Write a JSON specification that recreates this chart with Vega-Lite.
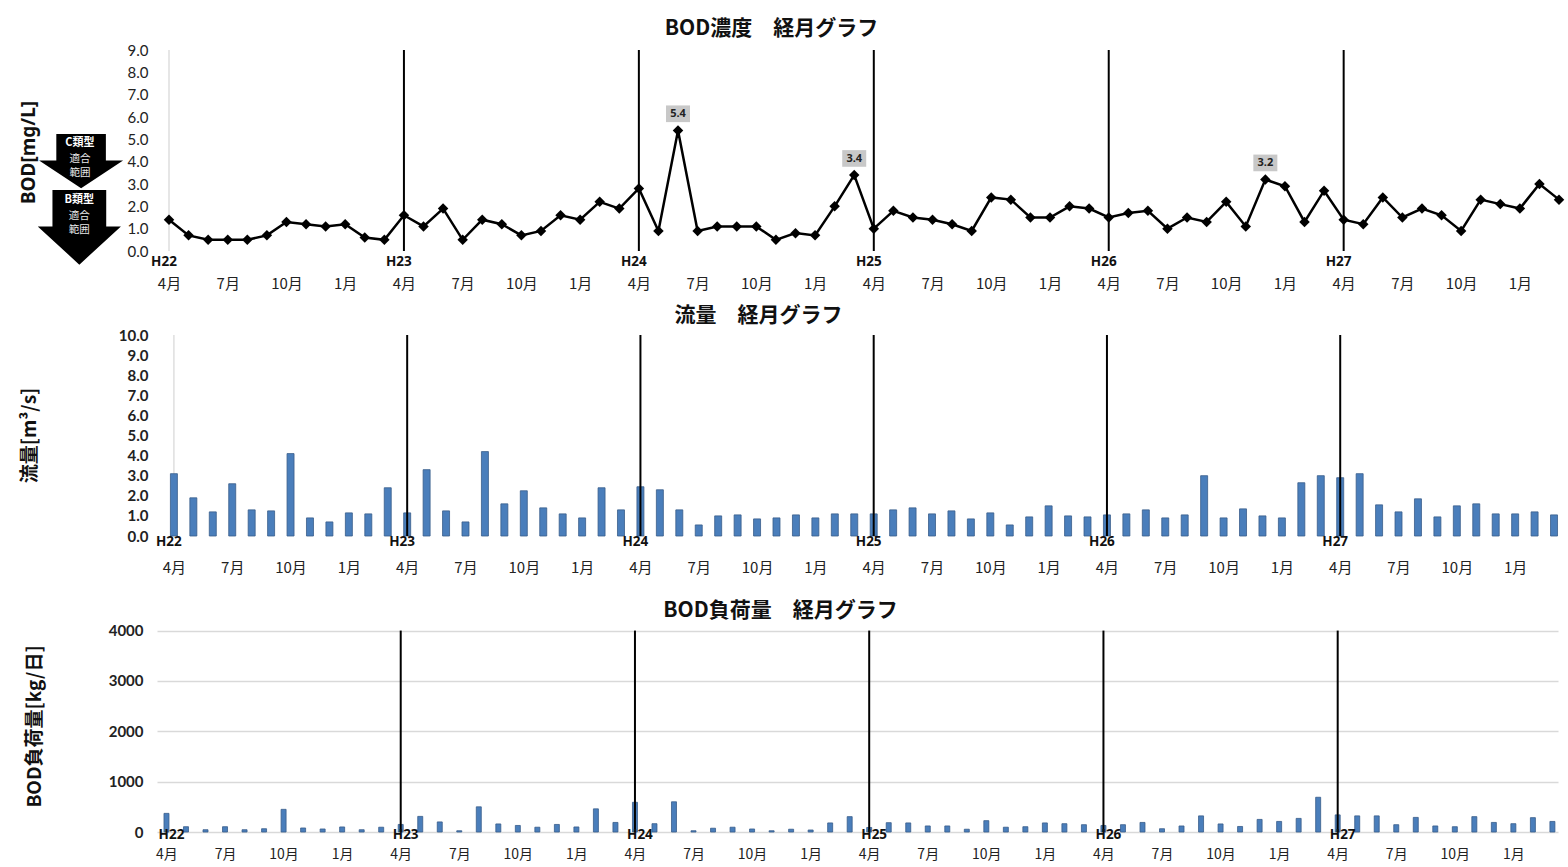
{
  "$schema": "https://vega.github.io/schema/vega-lite/v6.json",
  "padding": {"left": 19, "top": 18, "right": 8, "bottom": 0},
  "bounds": "flush",
  "spacing": 84,
  "config": {
    "view": {"stroke": null},
    "font": "Noto Sans CJK JP",
    "axis": {"gridColor": "#d9d9d9", "gridWidth": 1.3, "ticks": false, "domainColor": "#d9d9d9", "domainWidth": 1.3, "labelColor": "#222222", "titleColor": "#111111", "labelOverlap": false}
  },
  "datasets": {
    "m": [
      {"i":0,"bod":1.4,"flow":3.1,"load":370},{"i":1,"bod":0.7,"flow":1.9,"load":105},{"i":2,"bod":0.5,"flow":1.2,"load":45},{"i":3,"bod":0.5,"flow":2.6,"load":105},{"i":4,"bod":0.5,"flow":1.3,"load":45},{"i":5,"bod":0.7,"flow":1.25,"load":65},
      {"i":6,"bod":1.3,"flow":4.1,"load":450},{"i":7,"bod":1.2,"flow":0.9,"load":80},{"i":8,"bod":1.1,"flow":0.7,"load":60},{"i":9,"bod":1.2,"flow":1.15,"load":100},{"i":10,"bod":0.6,"flow":1.1,"load":45},{"i":11,"bod":0.5,"flow":2.4,"load":95},
      {"i":12,"bod":1.6,"flow":1.15,"load":150},{"i":13,"bod":1.1,"flow":3.3,"load":310},{"i":14,"bod":1.9,"flow":1.25,"load":200},{"i":15,"bod":0.5,"flow":0.7,"load":25},{"i":16,"bod":1.4,"flow":4.2,"load":500},{"i":17,"bod":1.2,"flow":1.6,"load":160},
      {"i":18,"bod":0.7,"flow":2.25,"load":130},{"i":19,"bod":0.9,"flow":1.4,"load":95},{"i":20,"bod":1.6,"flow":1.1,"load":150},{"i":21,"bod":1.4,"flow":0.9,"load":100},{"i":22,"bod":2.2,"flow":2.4,"load":460},{"i":23,"bod":1.9,"flow":1.3,"load":190},
      {"i":24,"bod":2.8,"flow":2.45,"load":590},{"i":25,"bod":0.9,"flow":2.3,"load":165},{"i":26,"bod":5.4,"flow":1.3,"load":600},{"i":27,"bod":0.9,"flow":0.55,"load":25},{"i":28,"bod":1.1,"flow":1.0,"load":75},{"i":29,"bod":1.1,"flow":1.05,"load":95},
      {"i":30,"bod":1.1,"flow":0.85,"load":60},{"i":31,"bod":0.5,"flow":0.9,"load":25},{"i":32,"bod":0.8,"flow":1.05,"load":55},{"i":33,"bod":0.7,"flow":0.9,"load":40},{"i":34,"bod":2.0,"flow":1.1,"load":180},{"i":35,"bod":3.4,"flow":1.1,"load":305},
      {"i":36,"bod":1.0,"flow":1.1,"load":90},{"i":37,"bod":1.8,"flow":1.3,"load":185},{"i":38,"bod":1.5,"flow":1.4,"load":180},{"i":39,"bod":1.4,"flow":1.1,"load":120},{"i":40,"bod":1.2,"flow":1.25,"load":120},{"i":41,"bod":0.9,"flow":0.85,"load":55},
      {"i":42,"bod":2.4,"flow":1.15,"load":225},{"i":43,"bod":2.3,"flow":0.55,"load":95},{"i":44,"bod":1.5,"flow":0.95,"load":105},{"i":45,"bod":1.5,"flow":1.5,"load":180},{"i":46,"bod":2.0,"flow":1.0,"load":165},{"i":47,"bod":1.9,"flow":0.95,"load":145},
      {"i":48,"bod":1.5,"flow":1.05,"load":130},{"i":49,"bod":1.7,"flow":1.1,"load":145},{"i":50,"bod":1.8,"flow":1.3,"load":190},{"i":51,"bod":1.0,"flow":0.9,"load":65},{"i":52,"bod":1.5,"flow":1.05,"load":120},{"i":53,"bod":1.3,"flow":3.0,"load":320},
      {"i":54,"bod":2.2,"flow":0.9,"load":160},{"i":55,"bod":1.1,"flow":1.35,"load":110},{"i":56,"bod":3.2,"flow":1.0,"load":250},{"i":57,"bod":2.9,"flow":0.9,"load":210},{"i":58,"bod":1.3,"flow":2.65,"load":270},{"i":59,"bod":2.7,"flow":3.0,"load":690},
      {"i":60,"bod":1.4,"flow":2.9,"load":340},{"i":61,"bod":1.2,"flow":3.1,"load":320},{"i":62,"bod":2.4,"flow":1.55,"load":320},{"i":63,"bod":1.5,"flow":1.2,"load":145},{"i":64,"bod":1.9,"flow":1.85,"load":290},{"i":65,"bod":1.6,"flow":0.95,"load":120},
      {"i":66,"bod":0.9,"flow":1.5,"load":105},{"i":67,"bod":2.3,"flow":1.6,"load":305},{"i":68,"bod":2.1,"flow":1.1,"load":190},{"i":69,"bod":1.9,"flow":1.1,"load":165},{"i":70,"bod":3.0,"flow":1.2,"load":285},{"i":71,"bod":2.3,"flow":1.05,"load":210}
    ],
    "years": [
      {"i":0,"label":"H22"},{"i":12,"label":"H23"},{"i":24,"label":"H24"},{"i":36,"label":"H25"},{"i":48,"label":"H26"},{"i":60,"label":"H27"}
    ],
    "lines": [{"i":12},{"i":24},{"i":36},{"i":48},{"i":60}],
    "peaks": [{"i":26,"bod":5.4,"t":"5.4"},{"i":35,"bod":3.4,"t":"3.4"},{"i":56,"bod":3.2,"t":"3.2"}],
    "arrows": [
      {"i":-4.49,"v":4.05,"shape":"M-0.59,-0.63L0.59,-0.63L0.59,0L1,0L0,0.66L-1,0L-0.59,0Z"},
      {"i":-4.58,"v":1.10,"shape":"M-0.64,-0.87L0.64,-0.87L0.64,0L0.99,0L0,0.91L-0.99,0L-0.64,0Z"}
    ],
    "arrowText": [
      {"i":-4.55,"v":4.85,"t":"C類型","b":1},{"i":-4.55,"v":4.13,"t":"適合","b":0},{"i":-4.55,"v":3.50,"t":"範囲","b":0},
      {"i":-4.58,"v":2.30,"t":"B類型","b":1},{"i":-4.58,"v":1.55,"t":"適合","b":0},{"i":-4.58,"v":0.92,"t":"範囲","b":0}
    ]
  },
  "vconcat": [
    {
      "width": 1403,
      "height": 201,
      "title": {"text": "BOD濃度　経月グラフ", "fontSize": 21, "fontWeight": "bold", "color": "#111111", "anchor": "middle", "dx": -87, "offset": -17, "baseline": "bottom"},
      "layer": [
        {
          "data": {"values": [{}]},
          "mark": {"type": "rule", "color": "#d9d9d9", "strokeWidth": 1.3},
          "encoding": {
            "x": {"datum": 0, "type": "quantitative", "scale": {"domain": [-0.613, 71.05], "nice": false, "zero": false}, "axis": {"values": [0,3,6,9,12,15,18,21,24,27,30,33,36,39,42,45,48,51,54,57,60,63,66,69], "labelExpr": "['4月','7月','10月','1月'][round(datum.value/3)%4]", "grid": false, "domain": false, "labelPadding": 25, "labelFontSize": 15, "labelBaseline": "top", "title": null, "labelFlush": false, "labelBound": false}},
            "y": {"datum": 9, "type": "quantitative", "scale": {"domain": [0, 9], "nice": false}, "axis": {"values": [0,1,2,3,4,5,6,7,8,9], "format": ".1f", "title": "BOD[mg/L]", "titleFontSize": 19, "titleFontWeight": "bold", "titleFont": "Noto Sans", "titleX": -128.5, "titleY": 102, "titleBaseline": "middle", "titleAngle": -90, "titleAlign": "center", "labelPadding": 9, "labelFontSize": 15, "labelFont": "Lato", "domain": false}},
            "y2": {"datum": 0}
          }
        },
        {
          "data": {"name": "lines"},
          "mark": {"type": "rule", "color": "#000000", "strokeWidth": 2},
          "encoding": {
            "x": {"field": "i", "type": "quantitative", "scale": {"domain": [-0.613, 71.05], "nice": false, "zero": false}, "axis": {"values": [0,3,6,9,12,15,18,21,24,27,30,33,36,39,42,45,48,51,54,57,60,63,66,69], "labelExpr": "['4月','7月','10月','1月'][round(datum.value/3)%4]", "grid": false, "domain": false, "labelPadding": 25, "labelFontSize": 15, "labelBaseline": "top", "title": null, "labelFlush": false, "labelBound": false}},
            "y": {"datum": 9, "type": "quantitative", "scale": {"domain": [0, 9], "nice": false}, "axis": {"values": [0,1,2,3,4,5,6,7,8,9], "format": ".1f", "title": "BOD[mg/L]", "titleFontSize": 19, "titleFontWeight": "bold", "titleFont": "Noto Sans", "titleX": -128.5, "titleY": 102, "titleBaseline": "middle", "titleAngle": -90, "titleAlign": "center", "labelPadding": 9, "labelFontSize": 15, "labelFont": "Lato", "domain": false}},
            "y2": {"datum": 0}
          }
        },
        {
          "data": {"name": "m"},
          "mark": {"type": "line", "color": "#000000", "strokeWidth": 2.5, "point": {"shape": "diamond", "size": 110, "color": "#000000", "filled": true, "opacity": 1}},
          "encoding": {
            "x": {"field": "i", "type": "quantitative", "scale": {"domain": [-0.613, 71.05], "nice": false, "zero": false}, "axis": {"values": [0,3,6,9,12,15,18,21,24,27,30,33,36,39,42,45,48,51,54,57,60,63,66,69], "labelExpr": "['4月','7月','10月','1月'][round(datum.value/3)%4]", "grid": false, "domain": false, "labelPadding": 25, "labelFontSize": 15, "labelBaseline": "top", "title": null, "labelFlush": false, "labelBound": false}},
            "y": {"field": "bod", "type": "quantitative", "scale": {"domain": [0, 9], "nice": false}, "axis": {"values": [0,1,2,3,4,5,6,7,8,9], "format": ".1f", "title": "BOD[mg/L]", "titleFontSize": 19, "titleFontWeight": "bold", "titleFont": "Noto Sans", "titleX": -128.5, "titleY": 102, "titleBaseline": "middle", "titleAngle": -90, "titleAlign": "center", "labelPadding": 9, "labelFontSize": 15, "labelFont": "Lato", "domain": false}}
          }
        },
        {
          "data": {"name": "years"},
          "mark": {"type": "text", "font": "Noto Sans", "fontWeight": "bold", "fontSize": 13.5, "baseline": "top", "dy": 4, "dx": -5, "color": "#111111"},
          "encoding": {
            "x": {"field": "i", "type": "quantitative", "scale": {"domain": [-0.613, 71.05], "nice": false, "zero": false}, "axis": {"values": [0,3,6,9,12,15,18,21,24,27,30,33,36,39,42,45,48,51,54,57,60,63,66,69], "labelExpr": "['4月','7月','10月','1月'][round(datum.value/3)%4]", "grid": false, "domain": false, "labelPadding": 25, "labelFontSize": 15, "labelBaseline": "top", "title": null, "labelFlush": false, "labelBound": false}},
            "y": {"datum": 0, "type": "quantitative", "scale": {"domain": [0, 9], "nice": false}, "axis": {"values": [0,1,2,3,4,5,6,7,8,9], "format": ".1f", "title": "BOD[mg/L]", "titleFontSize": 19, "titleFontWeight": "bold", "titleFont": "Noto Sans", "titleX": -128.5, "titleY": 102, "titleBaseline": "middle", "titleAngle": -90, "titleAlign": "center", "labelPadding": 9, "labelFontSize": 15, "labelFont": "Lato", "domain": false}},
            "text": {"field": "label"}
          }
        },
        {
          "data": {"name": "peaks"},
          "mark": {"type": "point", "filled": true, "color": "#c8c8c8", "opacity": 1, "size": 576, "shape": "M-1,-2.08L1,-2.08L1,-0.69L-1,-0.69Z"},
          "encoding": {
            "x": {"field": "i", "type": "quantitative", "scale": {"domain": [-0.613, 71.05], "nice": false, "zero": false}, "axis": {"values": [0,3,6,9,12,15,18,21,24,27,30,33,36,39,42,45,48,51,54,57,60,63,66,69], "labelExpr": "['4月','7月','10月','1月'][round(datum.value/3)%4]", "grid": false, "domain": false, "labelPadding": 25, "labelFontSize": 15, "labelBaseline": "top", "title": null, "labelFlush": false, "labelBound": false}},
            "y": {"field": "bod", "type": "quantitative", "scale": {"domain": [0, 9], "nice": false}, "axis": {"values": [0,1,2,3,4,5,6,7,8,9], "format": ".1f", "title": "BOD[mg/L]", "titleFontSize": 19, "titleFontWeight": "bold", "titleFont": "Noto Sans", "titleX": -128.5, "titleY": 102, "titleBaseline": "middle", "titleAngle": -90, "titleAlign": "center", "labelPadding": 9, "labelFontSize": 15, "labelFont": "Lato", "domain": false}}
          }
        },
        {
          "data": {"name": "peaks"},
          "mark": {"type": "text", "font": "Noto Sans", "fontWeight": "bold", "fontSize": 11, "baseline": "middle", "dy": -16.5, "color": "#222222"},
          "encoding": {
            "x": {"field": "i", "type": "quantitative", "scale": {"domain": [-0.613, 71.05], "nice": false, "zero": false}, "axis": {"values": [0,3,6,9,12,15,18,21,24,27,30,33,36,39,42,45,48,51,54,57,60,63,66,69], "labelExpr": "['4月','7月','10月','1月'][round(datum.value/3)%4]", "grid": false, "domain": false, "labelPadding": 25, "labelFontSize": 15, "labelBaseline": "top", "title": null, "labelFlush": false, "labelBound": false}},
            "y": {"field": "bod", "type": "quantitative", "scale": {"domain": [0, 9], "nice": false}, "axis": {"values": [0,1,2,3,4,5,6,7,8,9], "format": ".1f", "title": "BOD[mg/L]", "titleFontSize": 19, "titleFontWeight": "bold", "titleFont": "Noto Sans", "titleX": -128.5, "titleY": 102, "titleBaseline": "middle", "titleAngle": -90, "titleAlign": "center", "labelPadding": 9, "labelFontSize": 15, "labelFont": "Lato", "domain": false}},
            "text": {"field": "t"}
          }
        },
        {
          "data": {"name": "arrows"},
          "mark": {"type": "point", "filled": true, "color": "#000000", "opacity": 1, "size": 7056, "clip": false},
          "encoding": {
            "x": {"field": "i", "type": "quantitative", "scale": {"domain": [-0.613, 71.05], "nice": false, "zero": false}, "axis": {"values": [0,3,6,9,12,15,18,21,24,27,30,33,36,39,42,45,48,51,54,57,60,63,66,69], "labelExpr": "['4月','7月','10月','1月'][round(datum.value/3)%4]", "grid": false, "domain": false, "labelPadding": 25, "labelFontSize": 15, "labelBaseline": "top", "title": null, "labelFlush": false, "labelBound": false}},
            "y": {"field": "v", "type": "quantitative", "scale": {"domain": [0, 9], "nice": false}, "axis": {"values": [0,1,2,3,4,5,6,7,8,9], "format": ".1f", "title": "BOD[mg/L]", "titleFontSize": 19, "titleFontWeight": "bold", "titleFont": "Noto Sans", "titleX": -128.5, "titleY": 102, "titleBaseline": "middle", "titleAngle": -90, "titleAlign": "center", "labelPadding": 9, "labelFontSize": 15, "labelFont": "Lato", "domain": false}},
            "shape": {"field": "shape", "type": "nominal", "scale": null, "legend": null}
          }
        },
        {
          "data": {"name": "arrowText"},
          "transform": [{"filter": "datum.b == 1"}],
          "mark": {"type": "text", "fontWeight": "bold", "fontSize": 11, "baseline": "middle", "color": "#ffffff"},
          "encoding": {
            "x": {"field": "i", "type": "quantitative", "scale": {"domain": [-0.613, 71.05], "nice": false, "zero": false}, "axis": {"values": [0,3,6,9,12,15,18,21,24,27,30,33,36,39,42,45,48,51,54,57,60,63,66,69], "labelExpr": "['4月','7月','10月','1月'][round(datum.value/3)%4]", "grid": false, "domain": false, "labelPadding": 25, "labelFontSize": 15, "labelBaseline": "top", "title": null, "labelFlush": false, "labelBound": false}},
            "y": {"field": "v", "type": "quantitative", "scale": {"domain": [0, 9], "nice": false}, "axis": {"values": [0,1,2,3,4,5,6,7,8,9], "format": ".1f", "title": "BOD[mg/L]", "titleFontSize": 19, "titleFontWeight": "bold", "titleFont": "Noto Sans", "titleX": -128.5, "titleY": 102, "titleBaseline": "middle", "titleAngle": -90, "titleAlign": "center", "labelPadding": 9, "labelFontSize": 15, "labelFont": "Lato", "domain": false}},
            "text": {"field": "t"}
          }
        },
        {
          "data": {"name": "arrowText"},
          "transform": [{"filter": "datum.b == 0"}],
          "mark": {"type": "text", "fontSize": 10.5, "baseline": "middle", "color": "#e8e8e8"},
          "encoding": {
            "x": {"field": "i", "type": "quantitative", "scale": {"domain": [-0.613, 71.05], "nice": false, "zero": false}, "axis": {"values": [0,3,6,9,12,15,18,21,24,27,30,33,36,39,42,45,48,51,54,57,60,63,66,69], "labelExpr": "['4月','7月','10月','1月'][round(datum.value/3)%4]", "grid": false, "domain": false, "labelPadding": 25, "labelFontSize": 15, "labelBaseline": "top", "title": null, "labelFlush": false, "labelBound": false}},
            "y": {"field": "v", "type": "quantitative", "scale": {"domain": [0, 9], "nice": false}, "axis": {"values": [0,1,2,3,4,5,6,7,8,9], "format": ".1f", "title": "BOD[mg/L]", "titleFontSize": 19, "titleFontWeight": "bold", "titleFont": "Noto Sans", "titleX": -128.5, "titleY": 102, "titleBaseline": "middle", "titleAngle": -90, "titleAlign": "center", "labelPadding": 9, "labelFontSize": 15, "labelFont": "Lato", "domain": false}},
            "text": {"field": "t"}
          }
        }
      ]
    },
    {
      "width": 1403,
      "height": 201,
      "title": {"text": "流量　経月グラフ", "fontSize": 21, "fontWeight": "bold", "color": "#111111", "anchor": "middle", "dx": -100, "offset": -19, "baseline": "bottom"},
      "layer": [
        {
          "data": {"values": [{}]},
          "mark": {"type": "rule", "color": "#d9d9d9", "strokeWidth": 1.3},
          "encoding": {
            "x": {"datum": 0, "type": "quantitative", "scale": {"domain": [-0.613, 71.05], "nice": false, "zero": false}, "axis": {"values": [0,3,6,9,12,15,18,21,24,27,30,33,36,39,42,45,48,51,54,57,60,63,66,69], "labelExpr": "['4月','7月','10月','1月'][round(datum.value/3)%4]", "grid": false, "domain": false, "labelPadding": 24, "labelFontSize": 15, "labelBaseline": "top", "title": null, "labelFlush": false, "labelBound": false}},
            "y": {"datum": 10, "type": "quantitative", "scale": {"domain": [0, 10], "nice": false}, "axis": {"values": [0,1,2,3,4,5,6,7,8,9,10], "format": ".1f", "title": "流量[m³/s]", "titleFontSize": 19, "titleFontWeight": "bold", "titleX": -128, "titleY": 100, "titleBaseline": "middle", "titleAngle": -90, "titleAlign": "center", "labelPadding": 9, "labelFontSize": 15, "labelFontWeight": "bold", "labelFont": "Lato", "domain": false}},
            "y2": {"datum": 0}
          }
        },
        {
          "data": {"name": "m"},
          "mark": {"type": "bar", "width": 7, "color": "#4a7ebb", "stroke": "#385d8a", "strokeWidth": 0.8},
          "encoding": {
            "x": {"field": "i", "type": "quantitative", "scale": {"domain": [-0.613, 71.05], "nice": false, "zero": false}, "axis": {"values": [0,3,6,9,12,15,18,21,24,27,30,33,36,39,42,45,48,51,54,57,60,63,66,69], "labelExpr": "['4月','7月','10月','1月'][round(datum.value/3)%4]", "grid": false, "domain": false, "labelPadding": 24, "labelFontSize": 15, "labelBaseline": "top", "title": null, "labelFlush": false, "labelBound": false}},
            "y": {"field": "flow", "type": "quantitative", "scale": {"domain": [0, 10], "nice": false}, "axis": {"values": [0,1,2,3,4,5,6,7,8,9,10], "format": ".1f", "title": "流量[m³/s]", "titleFontSize": 19, "titleFontWeight": "bold", "titleX": -128, "titleY": 100, "titleBaseline": "middle", "titleAngle": -90, "titleAlign": "center", "labelPadding": 9, "labelFontSize": 15, "labelFontWeight": "bold", "labelFont": "Lato", "domain": false}}
          }
        },
        {
          "data": {"name": "lines"},
          "mark": {"type": "rule", "color": "#000000", "strokeWidth": 2},
          "encoding": {
            "x": {"field": "i", "type": "quantitative", "scale": {"domain": [-0.613, 71.05], "nice": false, "zero": false}, "axis": {"values": [0,3,6,9,12,15,18,21,24,27,30,33,36,39,42,45,48,51,54,57,60,63,66,69], "labelExpr": "['4月','7月','10月','1月'][round(datum.value/3)%4]", "grid": false, "domain": false, "labelPadding": 24, "labelFontSize": 15, "labelBaseline": "top", "title": null, "labelFlush": false, "labelBound": false}},
            "y": {"datum": 10, "type": "quantitative", "scale": {"domain": [0, 10], "nice": false}, "axis": {"values": [0,1,2,3,4,5,6,7,8,9,10], "format": ".1f", "title": "流量[m³/s]", "titleFontSize": 19, "titleFontWeight": "bold", "titleX": -128, "titleY": 100, "titleBaseline": "middle", "titleAngle": -90, "titleAlign": "center", "labelPadding": 9, "labelFontSize": 15, "labelFontWeight": "bold", "labelFont": "Lato", "domain": false}},
            "y2": {"datum": 0}
          }
        },
        {
          "data": {"name": "years"},
          "mark": {"type": "text", "font": "Noto Sans", "fontWeight": "bold", "fontSize": 13.5, "baseline": "top", "dy": -1, "dx": -5, "color": "#111111"},
          "encoding": {
            "x": {"field": "i", "type": "quantitative", "scale": {"domain": [-0.613, 71.05], "nice": false, "zero": false}, "axis": {"values": [0,3,6,9,12,15,18,21,24,27,30,33,36,39,42,45,48,51,54,57,60,63,66,69], "labelExpr": "['4月','7月','10月','1月'][round(datum.value/3)%4]", "grid": false, "domain": false, "labelPadding": 24, "labelFontSize": 15, "labelBaseline": "top", "title": null, "labelFlush": false, "labelBound": false}},
            "y": {"datum": 0, "type": "quantitative", "scale": {"domain": [0, 10], "nice": false}, "axis": {"values": [0,1,2,3,4,5,6,7,8,9,10], "format": ".1f", "title": "流量[m³/s]", "titleFontSize": 19, "titleFontWeight": "bold", "titleX": -128, "titleY": 100, "titleBaseline": "middle", "titleAngle": -90, "titleAlign": "center", "labelPadding": 9, "labelFontSize": 15, "labelFontWeight": "bold", "labelFont": "Lato", "domain": false}},
            "text": {"field": "label"}
          }
        }
      ]
    },
    {
      "width": 1401,
      "height": 212,
      "title": {"text": "BOD負荷量　経月グラフ", "fontSize": 21, "fontWeight": "bold", "color": "#111111", "anchor": "middle", "dx": -77, "offset": -22, "baseline": "bottom"},
      "layer": [
        {
          "data": {"name": "m"},
          "mark": {"type": "bar", "width": 5, "color": "#4a7ebb", "stroke": "#385d8a", "strokeWidth": 0.8},
          "encoding": {
            "x": {"field": "i", "type": "quantitative", "scale": {"domain": [-0.229, 71.03], "nice": false, "zero": false}, "axis": {"values": [0,3,6,9,12,15,18,21,24,27,30,33,36,39,42,45,48,51,54,57,60,63,66,69], "labelExpr": "['4月','7月','10月','1月'][round(datum.value/3)%4]", "grid": false, "domain": false, "labelPadding": 15, "labelFontSize": 14, "labelBaseline": "top", "title": null, "labelFlush": false, "labelBound": false}},
            "y": {"field": "load", "type": "quantitative", "scale": {"domain": [0, 4210], "nice": false}, "axis": {"values": [0,1000,2000,3000,4000], "format": "d", "title": "BOD負荷量[kg/日]", "titleFontSize": 19, "titleFontWeight": "bold", "titleX": -123, "titleY": 106, "titleBaseline": "middle", "titleAngle": -90, "titleAlign": "center", "labelPadding": 14, "labelFontSize": 15, "labelFontWeight": "bold", "labelFont": "Lato", "domain": false}}
          }
        },
        {
          "data": {"name": "lines"},
          "mark": {"type": "rule", "color": "#000000", "strokeWidth": 2},
          "encoding": {
            "x": {"field": "i", "type": "quantitative", "scale": {"domain": [-0.229, 71.03], "nice": false, "zero": false}, "axis": {"values": [0,3,6,9,12,15,18,21,24,27,30,33,36,39,42,45,48,51,54,57,60,63,66,69], "labelExpr": "['4月','7月','10月','1月'][round(datum.value/3)%4]", "grid": false, "domain": false, "labelPadding": 15, "labelFontSize": 14, "labelBaseline": "top", "title": null, "labelFlush": false, "labelBound": false}},
            "y": {"datum": 4000, "type": "quantitative", "scale": {"domain": [0, 4210], "nice": false}, "axis": {"values": [0,1000,2000,3000,4000], "format": "d", "title": "BOD負荷量[kg/日]", "titleFontSize": 19, "titleFontWeight": "bold", "titleX": -123, "titleY": 106, "titleBaseline": "middle", "titleAngle": -90, "titleAlign": "center", "labelPadding": 14, "labelFontSize": 15, "labelFontWeight": "bold", "labelFont": "Lato", "domain": false}},
            "y2": {"datum": 0}
          }
        },
        {
          "data": {"name": "years"},
          "mark": {"type": "text", "font": "Noto Sans", "fontWeight": "bold", "fontSize": 13.5, "baseline": "top", "dy": -4, "dx": 5, "color": "#111111"},
          "encoding": {
            "x": {"field": "i", "type": "quantitative", "scale": {"domain": [-0.229, 71.03], "nice": false, "zero": false}, "axis": {"values": [0,3,6,9,12,15,18,21,24,27,30,33,36,39,42,45,48,51,54,57,60,63,66,69], "labelExpr": "['4月','7月','10月','1月'][round(datum.value/3)%4]", "grid": false, "domain": false, "labelPadding": 15, "labelFontSize": 14, "labelBaseline": "top", "title": null, "labelFlush": false, "labelBound": false}},
            "y": {"datum": 0, "type": "quantitative", "scale": {"domain": [0, 4210], "nice": false}, "axis": {"values": [0,1000,2000,3000,4000], "format": "d", "title": "BOD負荷量[kg/日]", "titleFontSize": 19, "titleFontWeight": "bold", "titleX": -123, "titleY": 106, "titleBaseline": "middle", "titleAngle": -90, "titleAlign": "center", "labelPadding": 14, "labelFontSize": 15, "labelFontWeight": "bold", "labelFont": "Lato", "domain": false}},
            "text": {"field": "label"}
          }
        }
      ]
    }
  ]
}
